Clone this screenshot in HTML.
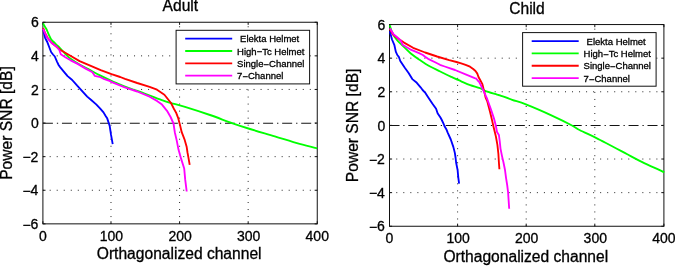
<!DOCTYPE html>
<html><head><meta charset="utf-8"><title>Power SNR</title>
<style>
html,body{margin:0;padding:0;background:#fff;overflow:hidden}
svg{display:block}
svg text{font-family:'Liberation Sans', Arial, Helvetica, sans-serif;fill:#000;stroke:#000;stroke-width:0.3px}
</style></head>
<body>
<svg width="675" height="266" viewBox="0 0 675 266">
<rect x="0" y="0" width="675" height="266" fill="#fff"/>
<line x1="110.99" y1="223.85" x2="110.99" y2="22.25" stroke="#000" stroke-opacity="0.85" stroke-width="1" stroke-dasharray="1.0 6.03" stroke-dashoffset="0.25"/>
<line x1="179.58" y1="223.85" x2="179.58" y2="22.25" stroke="#000" stroke-opacity="0.85" stroke-width="1" stroke-dasharray="1.0 6.03" stroke-dashoffset="0.25"/>
<line x1="248.16" y1="223.85" x2="248.16" y2="22.25" stroke="#000" stroke-opacity="0.85" stroke-width="1" stroke-dasharray="1.0 6.03" stroke-dashoffset="0.25"/>
<line x1="42.90" y1="55.85" x2="317.25" y2="55.85" stroke="#000" stroke-opacity="0.85" stroke-width="1" stroke-dasharray="1.0 6.03" stroke-dashoffset="0.25"/>
<line x1="42.90" y1="89.45" x2="317.25" y2="89.45" stroke="#000" stroke-opacity="0.85" stroke-width="1" stroke-dasharray="1.0 6.03" stroke-dashoffset="0.25"/>
<line x1="42.90" y1="156.65" x2="317.25" y2="156.65" stroke="#000" stroke-opacity="0.85" stroke-width="1" stroke-dasharray="1.0 6.03" stroke-dashoffset="0.25"/>
<line x1="42.90" y1="190.25" x2="317.25" y2="190.25" stroke="#000" stroke-opacity="0.85" stroke-width="1" stroke-dasharray="1.0 6.03" stroke-dashoffset="0.25"/>
<line x1="42.90" y1="123.25" x2="110.70" y2="123.25" stroke="#000" stroke-opacity="0.92" stroke-width="1.05" stroke-dasharray="10 3.95 1.3 3.8"/>
<line x1="110.70" y1="123.25" x2="317.25" y2="123.25" stroke="#000" stroke-opacity="0.92" stroke-width="1.05" stroke-dasharray="10 3.95 1.3 3.8"/>
<line x1="42.90" y1="223.85" x2="42.90" y2="221.25" stroke="#111" stroke-width="1.0"/>
<line x1="42.90" y1="22.25" x2="42.90" y2="24.85" stroke="#111" stroke-width="1.0"/>
<line x1="110.99" y1="223.85" x2="110.99" y2="221.25" stroke="#111" stroke-width="1.0"/>
<line x1="110.99" y1="22.25" x2="110.99" y2="24.85" stroke="#111" stroke-width="1.0"/>
<line x1="179.58" y1="223.85" x2="179.58" y2="221.25" stroke="#111" stroke-width="1.0"/>
<line x1="179.58" y1="22.25" x2="179.58" y2="24.85" stroke="#111" stroke-width="1.0"/>
<line x1="248.16" y1="223.85" x2="248.16" y2="221.25" stroke="#111" stroke-width="1.0"/>
<line x1="248.16" y1="22.25" x2="248.16" y2="24.85" stroke="#111" stroke-width="1.0"/>
<line x1="317.25" y1="223.85" x2="317.25" y2="221.25" stroke="#111" stroke-width="1.0"/>
<line x1="317.25" y1="22.25" x2="317.25" y2="24.85" stroke="#111" stroke-width="1.0"/>
<line x1="42.90" y1="22.25" x2="45.50" y2="22.25" stroke="#111" stroke-width="1.0"/>
<line x1="317.25" y1="22.25" x2="314.65" y2="22.25" stroke="#111" stroke-width="1.0"/>
<line x1="42.90" y1="55.85" x2="45.50" y2="55.85" stroke="#111" stroke-width="1.0"/>
<line x1="317.25" y1="55.85" x2="314.65" y2="55.85" stroke="#111" stroke-width="1.0"/>
<line x1="42.90" y1="89.45" x2="45.50" y2="89.45" stroke="#111" stroke-width="1.0"/>
<line x1="317.25" y1="89.45" x2="314.65" y2="89.45" stroke="#111" stroke-width="1.0"/>
<line x1="42.90" y1="123.05" x2="45.50" y2="123.05" stroke="#111" stroke-width="1.0"/>
<line x1="317.25" y1="123.05" x2="314.65" y2="123.05" stroke="#111" stroke-width="1.0"/>
<line x1="42.90" y1="156.65" x2="45.50" y2="156.65" stroke="#111" stroke-width="1.0"/>
<line x1="317.25" y1="156.65" x2="314.65" y2="156.65" stroke="#111" stroke-width="1.0"/>
<line x1="42.90" y1="190.25" x2="45.50" y2="190.25" stroke="#111" stroke-width="1.0"/>
<line x1="317.25" y1="190.25" x2="314.65" y2="190.25" stroke="#111" stroke-width="1.0"/>
<line x1="42.90" y1="223.85" x2="45.50" y2="223.85" stroke="#111" stroke-width="1.0"/>
<line x1="317.25" y1="223.85" x2="314.65" y2="223.85" stroke="#111" stroke-width="1.0"/>
<rect x="42.90" y="22.25" width="274.35" height="201.60" fill="none" stroke="#111" stroke-width="1.0"/>
<polyline points="43.3,29.5 44.2,34.0 45.1,37.8 46.2,40.0 47.4,42.3 48.8,46.0 51.1,52.0 53.0,54.5 54.8,56.5 57.1,61.8 58.6,65.0 60.1,67.1 63.8,71.6 67.6,76.1 72.2,80.0 77.2,85.7 79.7,88.3 87.2,96.6 91.2,100.0 96.2,104.4 100.0,108.3 103.5,112.4 105.5,115.8 107.3,118.6 108.7,123.0 109.7,126.0 111.0,134.7 112.7,144.1" fill="none" stroke="#0000ff" stroke-width="1.85" stroke-linejoin="round" stroke-linecap="butt"/>
<path d="M43.2,23.3C43.4,23.8 43.9,25.0 44.5,26.0C45.1,27.0 45.9,28.0 46.6,29.5C47.3,31.0 48.1,33.2 48.9,34.8C49.6,36.4 50.0,37.8 51.1,39.3C52.2,40.8 54.1,42.3 55.6,43.8C57.1,45.3 58.6,46.7 60.2,48.3C61.8,49.9 63.3,51.8 65.0,53.5C66.7,55.2 68.1,56.9 70.6,58.8C73.1,60.7 76.7,62.9 80.0,64.8C83.3,66.7 86.9,68.3 90.2,70.1C93.5,71.9 96.4,73.6 100.0,75.4C103.6,77.2 107.8,79.2 112.0,81.0C116.2,82.8 119.6,84.4 125.0,86.5C130.4,88.6 138.8,91.4 144.6,93.5C150.4,95.6 155.9,97.8 160.0,99.3C164.1,100.8 165.2,101.3 169.4,102.6C173.6,103.9 178.2,104.8 185.0,106.9C191.8,109.0 202.1,112.3 210.0,115.0C217.9,117.7 225.9,121.0 232.6,123.3C239.3,125.6 243.0,126.8 250.0,129.0C257.0,131.2 266.5,133.9 274.8,136.4C283.1,138.9 292.5,141.9 299.6,143.9C306.7,145.9 314.3,147.6 317.2,148.3" fill="none" stroke="#00ff00" stroke-width="1.85" stroke-linejoin="round"/>
<polyline points="43.2,28.0 45.0,33.0 47.4,37.5 51.1,42.3 55.6,46.0 60.1,49.8 69.1,55.0 79.6,61.1 90.2,65.6 100.7,70.1 111.5,74.2 120.2,77.0 125.0,78.9 137.2,83.0 149.6,86.8 157.0,89.7 164.4,94.7 168.6,100.0 171.0,103.0 174.3,109.6 176.0,112.4 178.3,118.4 180.0,125.0 181.7,132.2 184.7,139.9 186.7,147.1 187.5,152.5 188.4,157.3 189.7,164.8" fill="none" stroke="#ff0000" stroke-width="1.85" stroke-linejoin="round" stroke-linecap="butt"/>
<polyline points="43.2,28.8 45.1,33.3 47.4,37.8 51.1,42.3 52.6,43.8 56.4,46.5 59.3,50.0 60.8,54.3 65.3,57.3 70.6,60.3 78.1,64.1 85.6,68.6 92.4,72.3 94.7,75.8 97.0,76.3 100.5,77.2 104.4,79.2 109.4,80.9 112.4,82.3 124.8,87.3 137.2,91.5 149.6,96.7 157.0,100.9 162.0,104.6 167.0,110.8 170.6,117.0 173.5,123.5 174.8,132.2 176.8,140.9 178.5,149.6 181.0,158.4 184.2,168.5 185.2,179.7 186.7,191.5" fill="none" stroke="#ff00ff" stroke-width="1.85" stroke-linejoin="round" stroke-linecap="butt"/>
<text x="42.90" y="241.20" font-size="14.0" text-anchor="middle">0</text>
<text x="111.49" y="241.20" font-size="14.0" text-anchor="middle">100</text>
<text x="180.08" y="241.20" font-size="14.0" text-anchor="middle">200</text>
<text x="248.66" y="241.20" font-size="14.0" text-anchor="middle">300</text>
<text x="317.25" y="241.20" font-size="14.0" text-anchor="middle">400</text>
<text x="38.70" y="27.35" font-size="14.0" text-anchor="end">6</text>
<text x="38.70" y="60.95" font-size="14.0" text-anchor="end">4</text>
<text x="38.70" y="94.55" font-size="14.0" text-anchor="end">2</text>
<text x="38.70" y="128.15" font-size="14.0" text-anchor="end">0</text>
<text x="38.70" y="161.75" font-size="14.0" text-anchor="end"><tspan dx="-0.4" dy="0.6">−</tspan><tspan dx="-0.2" dy="-0.6">2</tspan></text>
<text x="38.70" y="195.35" font-size="14.0" text-anchor="end"><tspan dx="-0.4" dy="0.6">−</tspan><tspan dx="-0.2" dy="-0.6">4</tspan></text>
<text x="38.70" y="228.95" font-size="14.0" text-anchor="end"><tspan dx="-0.4" dy="0.6">−</tspan><tspan dx="-0.2" dy="-0.6">6</tspan></text>
<text x="179.17" y="259.25" font-size="15.6" text-anchor="middle">Orthagonalized channel</text>
<text x="180.38" y="11.45" font-size="15.6" text-anchor="middle">Adult</text>
<text transform="translate(11.70,123.05) rotate(-90)" font-size="15.6" text-anchor="middle">Power SNR [dB]</text>
<rect x="176.10" y="30.30" width="133.5" height="53.6" fill="#fff" stroke="#111" stroke-width="1.0"/>
<line x1="185.20" y1="38.60" x2="232.20" y2="38.60" stroke="#0000ff" stroke-width="1.85"/>
<text x="240.10" y="42.20" font-size="9.5">Elekta Helmet</text>
<line x1="185.20" y1="50.95" x2="232.20" y2="50.95" stroke="#00ff00" stroke-width="1.85"/>
<text x="237.10" y="54.55" font-size="9.5">High<tspan dy="0.8">−</tspan><tspan dy="-0.8">Tc Helmet</tspan></text>
<line x1="185.20" y1="63.30" x2="232.20" y2="63.30" stroke="#ff0000" stroke-width="1.85"/>
<text x="237.10" y="66.90" font-size="9.5">Single<tspan dy="0.8">−</tspan><tspan dy="-0.8">Channel</tspan></text>
<line x1="185.20" y1="75.65" x2="232.20" y2="75.65" stroke="#ff00ff" stroke-width="1.85"/>
<text x="237.10" y="79.25" font-size="9.5">7<tspan dy="0.8">−</tspan><tspan dy="-0.8">Channel</tspan></text>
<line x1="457.60" y1="226.25" x2="457.60" y2="24.55" stroke="#000" stroke-opacity="0.85" stroke-width="1" stroke-dasharray="1.0 6.03" stroke-dashoffset="0.25"/>
<line x1="526.20" y1="226.25" x2="526.20" y2="24.55" stroke="#000" stroke-opacity="0.85" stroke-width="1" stroke-dasharray="1.0 6.03" stroke-dashoffset="0.25"/>
<line x1="594.80" y1="226.25" x2="594.80" y2="24.55" stroke="#000" stroke-opacity="0.85" stroke-width="1" stroke-dasharray="1.0 6.03" stroke-dashoffset="0.25"/>
<line x1="389.50" y1="58.17" x2="663.90" y2="58.17" stroke="#000" stroke-opacity="0.85" stroke-width="1" stroke-dasharray="1.0 6.03" stroke-dashoffset="0.25"/>
<line x1="389.50" y1="91.78" x2="663.90" y2="91.78" stroke="#000" stroke-opacity="0.85" stroke-width="1" stroke-dasharray="1.0 6.03" stroke-dashoffset="0.25"/>
<line x1="389.50" y1="159.02" x2="663.90" y2="159.02" stroke="#000" stroke-opacity="0.85" stroke-width="1" stroke-dasharray="1.0 6.03" stroke-dashoffset="0.25"/>
<line x1="389.50" y1="192.63" x2="663.90" y2="192.63" stroke="#000" stroke-opacity="0.85" stroke-width="1" stroke-dasharray="1.0 6.03" stroke-dashoffset="0.25"/>
<line x1="389.50" y1="125.50" x2="458.00" y2="125.50" stroke="#000" stroke-opacity="0.92" stroke-width="1.05" stroke-dasharray="10 3.75 1.3 3.7"/>
<line x1="458.00" y1="125.50" x2="663.90" y2="125.50" stroke="#000" stroke-opacity="0.92" stroke-width="1.05" stroke-dasharray="10 3.9 1.3 3.75"/>
<line x1="389.50" y1="226.25" x2="389.50" y2="223.65" stroke="#111" stroke-width="1.0"/>
<line x1="389.50" y1="24.55" x2="389.50" y2="27.15" stroke="#111" stroke-width="1.0"/>
<line x1="457.60" y1="226.25" x2="457.60" y2="223.65" stroke="#111" stroke-width="1.0"/>
<line x1="457.60" y1="24.55" x2="457.60" y2="27.15" stroke="#111" stroke-width="1.0"/>
<line x1="526.20" y1="226.25" x2="526.20" y2="223.65" stroke="#111" stroke-width="1.0"/>
<line x1="526.20" y1="24.55" x2="526.20" y2="27.15" stroke="#111" stroke-width="1.0"/>
<line x1="594.80" y1="226.25" x2="594.80" y2="223.65" stroke="#111" stroke-width="1.0"/>
<line x1="594.80" y1="24.55" x2="594.80" y2="27.15" stroke="#111" stroke-width="1.0"/>
<line x1="663.90" y1="226.25" x2="663.90" y2="223.65" stroke="#111" stroke-width="1.0"/>
<line x1="663.90" y1="24.55" x2="663.90" y2="27.15" stroke="#111" stroke-width="1.0"/>
<line x1="389.50" y1="24.55" x2="392.10" y2="24.55" stroke="#111" stroke-width="1.0"/>
<line x1="663.90" y1="24.55" x2="661.30" y2="24.55" stroke="#111" stroke-width="1.0"/>
<line x1="389.50" y1="58.17" x2="392.10" y2="58.17" stroke="#111" stroke-width="1.0"/>
<line x1="663.90" y1="58.17" x2="661.30" y2="58.17" stroke="#111" stroke-width="1.0"/>
<line x1="389.50" y1="91.78" x2="392.10" y2="91.78" stroke="#111" stroke-width="1.0"/>
<line x1="663.90" y1="91.78" x2="661.30" y2="91.78" stroke="#111" stroke-width="1.0"/>
<line x1="389.50" y1="125.40" x2="392.10" y2="125.40" stroke="#111" stroke-width="1.0"/>
<line x1="663.90" y1="125.40" x2="661.30" y2="125.40" stroke="#111" stroke-width="1.0"/>
<line x1="389.50" y1="159.02" x2="392.10" y2="159.02" stroke="#111" stroke-width="1.0"/>
<line x1="663.90" y1="159.02" x2="661.30" y2="159.02" stroke="#111" stroke-width="1.0"/>
<line x1="389.50" y1="192.63" x2="392.10" y2="192.63" stroke="#111" stroke-width="1.0"/>
<line x1="663.90" y1="192.63" x2="661.30" y2="192.63" stroke="#111" stroke-width="1.0"/>
<line x1="389.50" y1="226.25" x2="392.10" y2="226.25" stroke="#111" stroke-width="1.0"/>
<line x1="663.90" y1="226.25" x2="661.30" y2="226.25" stroke="#111" stroke-width="1.0"/>
<rect x="389.50" y="24.55" width="274.40" height="201.70" fill="none" stroke="#111" stroke-width="1.0"/>
<polyline points="389.8,31.3 392.0,39.5 394.3,44.8 395.8,51.6 397.3,55.0 398.8,56.8 400.3,61.0 404.8,67.8 408.6,73.0 412.3,79.1 416.8,82.8 420.6,87.3 422.6,90.0 425.1,92.6 427.8,96.8 432.3,103.5 436.1,108.8 437.6,113.3 440.6,117.8 441.8,120.0 443.6,123.8 444.4,126.0 446.6,129.8 447.8,132.8 450.8,139.5 453.4,147.1 454.9,153.1 455.6,158.0 456.1,162.5 457.6,170.0 458.3,177.6 459.1,183.6" fill="none" stroke="#0000ff" stroke-width="1.85" stroke-linejoin="round" stroke-linecap="butt"/>
<path d="M389.8,25.3C390.2,26.4 390.9,29.6 392.0,32.0C393.1,34.4 394.7,37.2 396.5,39.5C398.3,41.8 400.2,43.3 402.6,45.6C405.0,47.9 408.1,51.2 410.8,53.5C413.6,55.8 416.0,57.4 419.1,59.5C422.2,61.6 426.1,64.3 429.6,66.3C433.1,68.3 436.7,69.8 440.2,71.5C443.7,73.2 447.2,75.0 450.7,76.6C454.2,78.2 457.9,79.9 461.2,81.3C464.4,82.7 467.1,84.0 470.2,85.1C473.3,86.2 477.5,87.1 480.0,88.1C482.5,89.0 482.2,89.7 485.1,90.8C488.0,91.9 494.6,93.8 497.1,94.6C499.6,95.4 497.5,94.5 500.0,95.4C502.5,96.3 507.9,98.3 512.2,99.8C516.5,101.3 519.3,101.8 525.9,104.4C532.5,107.0 544.3,112.1 551.9,115.6C559.5,119.1 566.9,122.8 571.5,125.2C576.1,127.6 575.4,127.9 579.5,130.0C583.6,132.1 590.5,135.1 596.0,137.8C601.5,140.6 607.4,143.8 612.6,146.5C617.8,149.2 622.0,151.5 627.3,154.3C632.6,157.1 638.9,160.5 644.2,163.1C649.5,165.7 655.9,168.2 659.2,169.8C662.6,171.4 663.4,172.0 664.3,172.4" fill="none" stroke="#00ff00" stroke-width="1.85" stroke-linejoin="round"/>
<polyline points="389.8,29.0 393.0,34.5 398.0,38.5 404.0,42.6 413.1,47.8 425.1,52.5 437.1,56.5 449.2,60.2 456.5,62.0 461.2,63.3 465.6,64.8 470.0,66.7 473.2,69.0 475.5,71.0 477.3,73.6 478.5,77.0 480.3,80.3 482.4,84.1 483.6,89.3 484.5,92.5 485.6,97.6 487.2,101.0 490.2,112.6 492.0,120.1 493.7,127.5 495.9,136.5 497.4,144.8 498.4,154.0 498.9,162.5 499.4,169.3" fill="none" stroke="#ff0000" stroke-width="1.85" stroke-linejoin="round" stroke-linecap="butt"/>
<polyline points="389.8,28.3 393.5,34.3 398.0,38.0 401.0,41.0 402.6,44.8 410.1,49.3 419.1,53.1 422.9,55.0 425.1,56.8 428.1,58.8 435.6,62.5 440.0,64.8 444.7,66.5 455.0,70.0 465.6,74.4 474.7,78.1 476.1,78.5 478.5,81.3 479.1,81.8 480.0,83.6 481.4,86.3 483.6,90.8 485.9,96.1 487.2,99.0 491.0,109.5 494.0,118.6 495.9,126.0 497.0,132.0 498.9,135.0 499.7,141.0 500.5,148.6 502.0,156.1 503.5,162.5 505.0,170.0 506.0,177.6 507.2,185.1 508.1,192.5 508.6,200.0 509.2,208.8" fill="none" stroke="#ff00ff" stroke-width="1.85" stroke-linejoin="round" stroke-linecap="butt"/>
<text x="389.50" y="243.25" font-size="14.0" text-anchor="middle">0</text>
<text x="458.10" y="243.25" font-size="14.0" text-anchor="middle">100</text>
<text x="526.70" y="243.25" font-size="14.0" text-anchor="middle">200</text>
<text x="595.30" y="243.25" font-size="14.0" text-anchor="middle">300</text>
<text x="663.90" y="243.25" font-size="14.0" text-anchor="middle">400</text>
<text x="385.30" y="29.65" font-size="14.0" text-anchor="end">6</text>
<text x="385.30" y="63.27" font-size="14.0" text-anchor="end">4</text>
<text x="385.30" y="96.88" font-size="14.0" text-anchor="end">2</text>
<text x="385.30" y="130.50" font-size="14.0" text-anchor="end">0</text>
<text x="385.30" y="164.12" font-size="14.0" text-anchor="end"><tspan dx="-0.4" dy="0.6">−</tspan><tspan dx="-0.2" dy="-0.6">2</tspan></text>
<text x="385.30" y="197.73" font-size="14.0" text-anchor="end"><tspan dx="-0.4" dy="0.6">−</tspan><tspan dx="-0.2" dy="-0.6">4</tspan></text>
<text x="385.30" y="231.35" font-size="14.0" text-anchor="end"><tspan dx="-0.4" dy="0.6">−</tspan><tspan dx="-0.2" dy="-0.6">6</tspan></text>
<text x="525.80" y="261.65" font-size="15.6" text-anchor="middle">Orthagonalized channel</text>
<text x="527.00" y="13.75" font-size="15.6" text-anchor="middle">Child</text>
<text transform="translate(358.30,125.40) rotate(-90)" font-size="15.6" text-anchor="middle">Power SNR [dB]</text>
<rect x="522.60" y="32.60" width="133.5" height="53.6" fill="#fff" stroke="#111" stroke-width="1.0"/>
<line x1="531.70" y1="41.05" x2="578.70" y2="41.05" stroke="#0000ff" stroke-width="1.85"/>
<text x="586.60" y="44.65" font-size="9.5">Elekta Helmet</text>
<line x1="531.70" y1="53.40" x2="578.70" y2="53.40" stroke="#00ff00" stroke-width="1.85"/>
<text x="583.60" y="57.00" font-size="9.5">High<tspan dy="0.8">−</tspan><tspan dy="-0.8">Tc Helmet</tspan></text>
<line x1="531.70" y1="65.75" x2="578.70" y2="65.75" stroke="#ff0000" stroke-width="1.85"/>
<text x="583.60" y="69.35" font-size="9.5">Single<tspan dy="0.8">−</tspan><tspan dy="-0.8">Channel</tspan></text>
<line x1="531.70" y1="78.10" x2="578.70" y2="78.10" stroke="#ff00ff" stroke-width="1.85"/>
<text x="583.60" y="81.70" font-size="9.5">7<tspan dy="0.8">−</tspan><tspan dy="-0.8">Channel</tspan></text>
</svg>
</body></html>
